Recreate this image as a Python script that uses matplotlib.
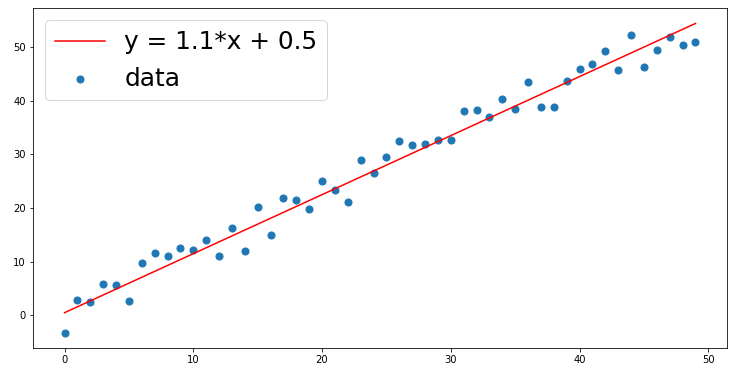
import matplotlib
matplotlib.use("Agg")
import matplotlib.pyplot as plt
import numpy as np

x = np.arange(50)
y = [-3.2, 2.9, 2.4, 5.9, 5.7, 2.7, 9.7, 11.7, 11.1, 12.5,
     12.2, 14.0, 11.1, 16.2, 12.0, 20.2, 15.0, 21.8, 21.5, 19.9,
     25.0, 23.4, 21.1, 29.0, 26.6, 29.5, 32.5, 31.8, 32.0, 32.7,
     32.7, 38.1, 38.3, 36.9, 40.4, 38.5, 43.4, 38.8, 38.8, 43.6,
     46.0, 46.8, 49.3, 45.8, 52.3, 46.2, 49.5, 51.8, 50.4, 50.9]
slope = 1.1
intercept = 0.5

fig = plt.figure(figsize=(740 / 72, 378 / 72), dpi=72)
ax = fig.add_axes([33 / 740, 30 / 378, 694 / 740, 340 / 378])

ax.plot(x, slope * x + intercept, color="red", label="y = 1.1*x + 0.5")
ax.scatter(x, y, s=50, label="data")
ax.legend(fontsize=24.7, loc="upper left")

fig.savefig("out.png", dpi=72)
